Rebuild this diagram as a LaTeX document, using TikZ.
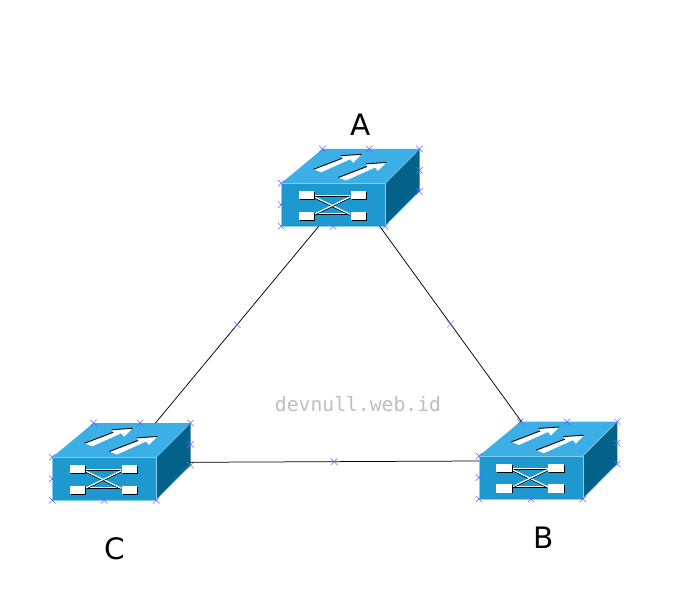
\documentclass[tikz,border=0pt]{standalone}
\usepackage{fontspec}
\setmainfont{DejaVu Sans}
\setmonofont{DejaVu Sans Mono}
\usetikzlibrary{shapes.misc}
\definecolor{swtop}{RGB}{60,175,230}
\definecolor{swfront}{RGB}{29,153,208}
\definecolor{swside}{RGB}{4,98,138}
\definecolor{swedge}{RGB}{135,205,235}
\definecolor{portblue}{RGB}{100,100,255}
\tikzset{
  port/.style={cross out, draw=portblue, line width=0.5pt, minimum size=6.5pt, inner sep=0pt, outer sep=0pt},
  link/.style={draw=black, line width=0.75pt},
  swlabel/.style={font=\fontsize{29.5}{34}\selectfont, inner sep=0pt},
  swfrontbox/.style={draw=swedge, fill=swfront, line width=0.8pt, minimum width=104pt, minimum height=42.5pt, inner sep=0pt, anchor=north west},
  mark text/.style={font=\ttfamily\fontsize{19.7}{24}\selectfont, text=black!25, inner sep=0pt}
}
% arrow on the top face
\newcommand{\toparrow}[2]{%
  \fill[white, shift={(#1,#2)}] (32.3,-14) -- (61,-25) -- (59.6,-27.6) -- (80.3,-29) -- (72,-20.5) -- (69,-24) -- (40,-11) -- cycle;
  \draw[black, line width=0.9pt, shift={(#1,#2)}] (32.3,-14) -- (61,-25);
  \draw[black, line width=0.9pt, shift={(#1,#2)}] (59.6,-27.6) -- (80.3,-29);
}
% white block of the front icon, black shadow
\newcommand{\swblock}[2]{%
  \fill[black] ({#1+1},{#2+1}) rectangle ({#1+16.3},{#2+9});
  \fill[white] (#1,#2) rectangle ({#1+15.6},{#2+8.2});
}
% one strand of the front icon
\newcommand{\swwire}[4]{%
  \draw[black, line width=0.9pt] (#1,{#2+1}) -- (#3,{#4+1});
  \draw[white, line width=1.2pt] (#1,#2) -- (#3,#4);
}
\newcommand{\switchunit}[3]{%
  \begin{scope}[shift={(#2,#3)}]
    \fill[swtop] (0,0) -- (41.3,-34.3) -- (138.3,-34.3) -- (104,0) -- cycle;
    \fill[swside] (104,0) -- (138.3,-34.3) -- (138.3,8) -- (104,42.5) -- cycle;
    \draw[swedge, line width=0.6pt] (104,42.5) -- (138.3,8);
    \draw[swedge, line width=0.6pt] (104,0) -- (138.3,-34.3);
    \node[swfrontbox] (#1) at (0,0) {};
    \toparrow{0}{0}
    \toparrow{24.8}{8.2}
    \swwire{33}{12.4}{69}{12.4}
    \swwire{33}{30.4}{69}{30.4}
    \swwire{33}{13.5}{69}{31}
    \swwire{33}{31}{69}{13.5}
    \swblock{17.3}{7.7}
    \swblock{69.3}{7.7}
    \swblock{17.3}{28.3}
    \swblock{69.3}{28.3}
    \foreach \px/\py [count=\i] in {41.3/-34.3, 88/-34.3, 138.3/-34.3, 138.3/-13, 138.3/8, 0/0, 0/21.5, 0/43, 52/43, 104/43}
      \node[port] (#1-p\i) at (\px,\py) {};
    % link ends
    \coordinate (#1-bl) at (37.5,43);
    \coordinate (#1-br) at (98.5,43);
    \coordinate (#1-bkl) at (42.5,-34.3);
    \coordinate (#1-bkr) at (103.3,-34.3);
    \coordinate (#1-l) at (0,5);
    \coordinate (#1-r) at (137,5);
  \end{scope}
}
\begin{document}
\begin{tikzpicture}[x=1pt, y=-1pt]
  \useasboundingbox (0,0) rectangle (683,599);
  \fill[white] (0,0) rectangle (683,599);

  \switchunit{A}{281.2}{183.3}
  \switchunit{B}{479}{456}
  \switchunit{C}{52.2}{457.3}

  \draw[link] (A-bl) -- node[port, pos=0.5] (ac) {} (C-bkr);
  \draw[link] (A-br) -- node[port, pos=0.5] (ab) {} (B-bkl);
  \draw[link] (C-r) -- node[port, pos=0.5] (cb) {} (B-l);

  \node[swlabel] (lA) at (360.5,125) {A};
  \node[swlabel] (lB) at (544,538) {B};
  \node[swlabel] (lC) at (115,549) {C};
  \node[mark text] (site) at (358,404) {devnull.web.id};
\end{tikzpicture}
\end{document}
